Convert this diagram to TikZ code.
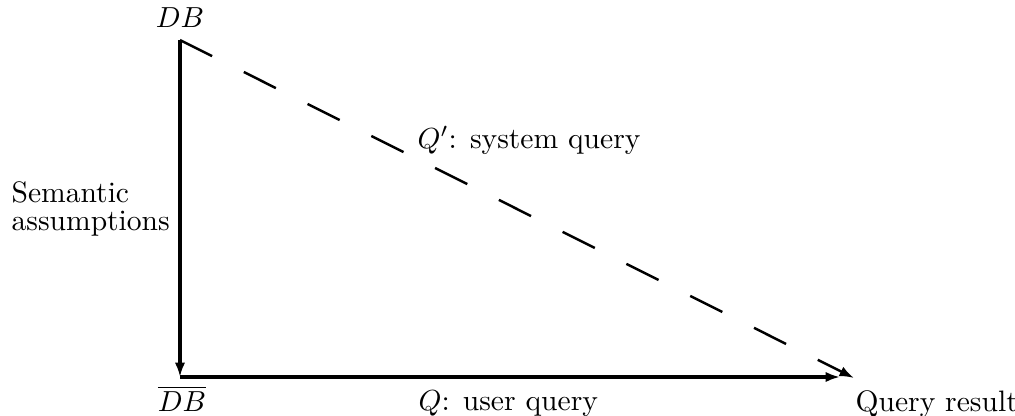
\documentclass[tikz,border=0pt]{standalone}
\usetikzlibrary{arrows.meta}
\begin{document}
\begin{tikzpicture}[x=0.3448pt,y=-0.3448pt,
  solidarrow/.style={line width=1.05pt,-{Latex[length=5pt,width=3.6pt]}},
  dasharrow/.style={line width=0.85pt,dash pattern=on 12.4pt off 12.2pt,-{Latex[length=5pt,width=3.6pt]}},
  lbl/.style={inner sep=0pt,font=\fontsize{10.2pt}{12pt}\selectfont}]
\useasboundingbox (0,0) rectangle (1015,415);
\coordinate (top) at (180,40);
\coordinate (corner) at (180,377);
\coordinate (hend) at (840,377);
\coordinate (dend) at (854,378);
\node[lbl] (db) at (180,18) {$DB$};
\node[lbl,anchor=base] (dbbar) at (182,411) {$\overline{DB}$};
\node[lbl,anchor=base west] (res) at (855,411) {Query result};
\node[lbl,anchor=base west] (uq) at (418,410) {$Q$: user query};
\node[lbl,anchor=base west] (sq) at (417,148) {$Q'$: system query};
\node[lbl,anchor=base west] (sem1) at (11,202) {Semantic};
\node[lbl,anchor=base west] (sem2) at (11,230) {assumptions};
\draw[solidarrow] (top) -- (corner);
\draw[solidarrow] (corner) -- (hend);
\draw[dasharrow] (top) -- (dend);
\end{tikzpicture}
\end{document}
